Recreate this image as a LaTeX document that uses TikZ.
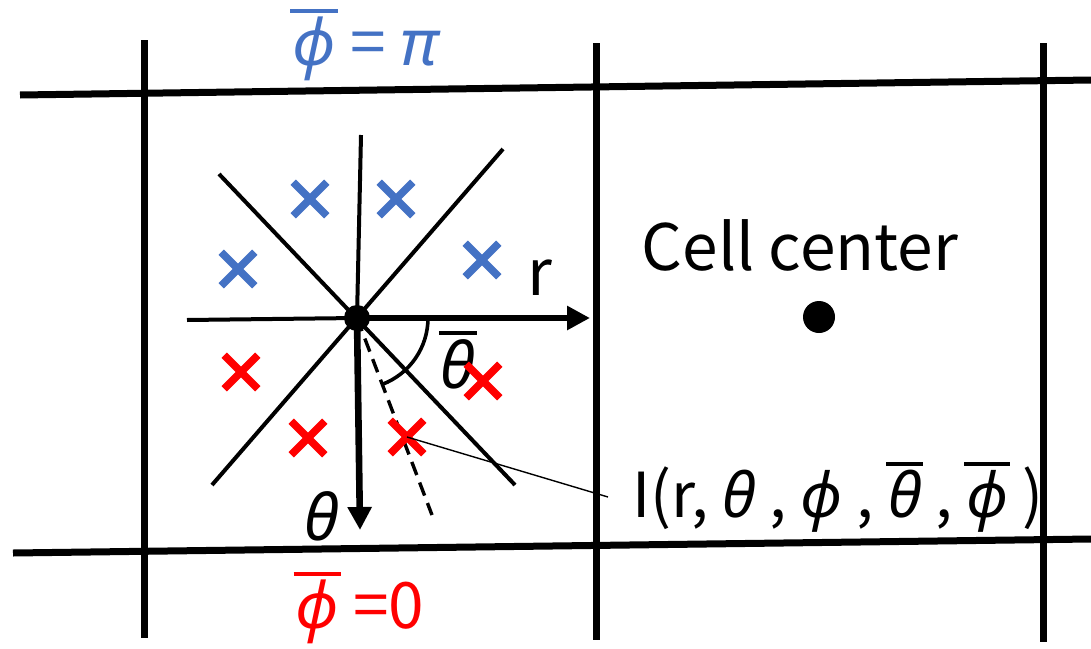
\documentclass[tikz,border=0pt]{standalone}
\usepackage{fontspec}
\setmainfont{Noto Sans CJK JP}
\newfontfamily\greekfont{Noto Sans}
\usetikzlibrary{calc, positioning}
\usetikzlibrary{arrows.meta}
\usetikzlibrary{shapes.misc}

\definecolor{phiblue}{HTML}{4472C4}
\definecolor{phired}{HTML}{FF0000}

\tikzset{
  gridline/.style={line width=3.5pt},
  ray/.style={line width=2pt},
  axis/.style={line width=3.3pt,-{Triangle[length=11.5pt,width=11.5pt]}},
  bluex/.style={cross out,draw=phiblue,line width=3.8pt,minimum size=13pt,inner sep=0pt},
  redx/.style={cross out,draw=phired,line width=3.8pt,minimum size=13pt,inner sep=0pt},
  bigtxt/.style={font=\fontsize{32}{38}\selectfont,inner sep=0pt},
  dot/.style={circle,fill=black,inner sep=0pt},
}

\newcommand{\gth}{{\greekfont\itshape θ}}
\newcommand{\gph}{{\greekfont\itshape ϕ}}
\newcommand{\barred}[1]{\setbox0\hbox{#1}%
  \rlap{\kern-1pt\raisebox{\dimexpr\ht0+2pt\relax}{\rule{\dimexpr\wd0+2pt\relax}{2pt}}}\box0\relax}

\begin{document}
\begin{tikzpicture}[x=0.5pt,y=-0.5pt]
\useasboundingbox (0,0) rectangle (1091,648);
% grid of cells
\draw[gridline] (20,95) -- (1091,80);
\draw[gridline] (13,553) -- (1091,539);
\draw[gridline] (144,40) -- (144,638);
\draw[gridline] (596,43) -- (596,640);
\draw[gridline] (1043,43) -- (1043,642);
% point on the cell face and its directions
\node[dot,minimum size=13pt] (c) at (357,318) {};
\coordinate (left) at (187,320);
\coordinate (up) at (361,135);
\coordinate (ul) at (219,174);
\coordinate (lr) at (515,485);
\coordinate (ur) at (503,149);
\coordinate (ll) at (212,485);
\coordinate (rtip) at (590,318);
\coordinate (ttip) at (360,530);
\coordinate (dtip) at (432,515);
\draw[ray] (left) -- (c.center);
\draw[ray] (up) -- (c.center);
\draw[ray] (ul) -- (lr);
\draw[ray] (ur) -- (ll);
\draw[axis] (c.center) -- (rtip);
\draw[axis] (c.center) -- (ttip);
\draw[line width=1.7pt,dash pattern=on 7pt off 4pt] (c.center) -- (dtip);
\draw[line width=1.8pt] (c.center) ++(0:71) arc[start angle=0,end angle=69,radius=71];
\node[bigtxt] (rlab) at (540,278) {r};
\node[bigtxt] (tlab) at (322,516) {\gth};
\node[bigtxt] (tbar) at (458,360) {\barred{\gth}};
% directions with phi = pi
\node[bluex] (bx1) at (310,199) {};
\node[bluex] (bx2) at (396,199) {};
\node[bluex] (bx3) at (238,269) {};
\node[bluex] (bx4) at (482,260) {};
% directions with phi = 0
\node[redx] (rx1) at (241,372) {};
\node[redx] (rx2) at (483,381) {};
\node[redx] (rx3) at (308,438) {};
\node[redx] (rx4) at (407,437) {};
% intensity label
\node[bigtxt,font=\fontsize{31}{37}\selectfont,anchor=base west] (ilab) at (632,517)
  {I(r, \gth{} , \gph{} , \barred{\gth} , \barred{\gph} )};
\coordinate (ilead) at (608,497);
\draw[line width=0.7pt] (rx4.center) -- (ilead);
% cell center
\node[bigtxt] (cclab) at (800,245) {Cell center};
\node[dot,minimum size=16pt] (cc) at (819,317) {};
% boundary values
\node[bigtxt,text=phiblue] (phipi) at (365,45) {\barred{\gph} = {\greekfont\itshape π}};
\node[bigtxt,text=phired] (phizero) at (360,608) {\barred{\gph} =0};
\end{tikzpicture}
\end{document}
